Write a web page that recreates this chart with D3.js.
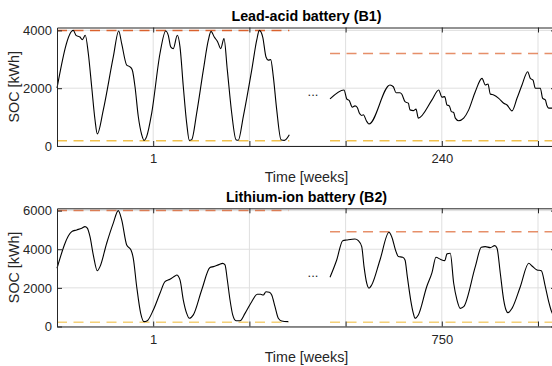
<!DOCTYPE html>
<html>
<head>
<meta charset="utf-8">
<script src="https://cdn.jsdelivr.net/npm/d3@7"></script>
<style>
  html, body { margin: 0; padding: 0; background: #ffffff; }
  svg { display: block; font-family: "Liberation Sans", Arial, Helvetica, sans-serif; }
</style>
</head>
<body>
<svg id="chart" width="552" height="366"></svg>
<script>
// ---------------- data (time in days, SOC in kWh) ----------------
const xTickValues = [2, 4, 6, 8, 10];
const leadAcidTickLabels = ["1", "", "", "240", ""];
const lithiumTickLabels = ["1", "", "", "750", ""];
const leadAcidYTicks = [0, 2000, 4000];
const lithiumYTicks = [0, 2000, 4000, 6000];

const leadAcidWeekA = [
  [0,2000],[0.339,4000],[0.395,3830],[0.478,3770],[0.526,3680],[0.588,3830],[0.651,3200],
  [0.721,2050],[0.79,907],[0.838,420],[0.963,1250],[1.17,3080],[1.283,3980],[1.345,3540],
  [1.449,2800],[1.518,2740],[1.565,2630],[1.622,2050],[1.69,1020],[1.761,390],[1.809,196],
  [1.865,333],[1.969,1140],[2.141,3200],[2.26,3980],[2.314,3830],[2.364,3430],[2.418,3370],
  [2.501,3830],[2.557,3430],[2.626,2050],[2.696,790],[2.751,196],[2.8,220],[2.904,1140],
  [3.042,2625],[3.146,3660],[3.202,3965],[3.27,3770],[3.341,3600],[3.403,3370],[3.472,3715],
  [3.541,2625],[3.632,1140],[3.721,220],[3.769,200],[3.873,1020],[4.048,2625],[4.152,3660],
  [4.206,4000],[4.277,3770],[4.345,3080],[4.393,2970],[4.443,2990],[4.497,2400],[4.568,1250],
  [4.657,220],[4.726,196],[4.83,390]
];
const leadAcidWeekB = [
  [5.676,1630],[5.967,1940],[6.023,1630],[6.077,1570],[6.139,1345],[6.195,1390],[6.243,1330],
  [6.285,1140],[6.335,1055],[6.368,1080],[6.439,850],[6.486,760],[6.923,2110],[6.992,2050],
  [7.048,1845],[7.131,1845],[7.166,1800],[7.235,1535],[7.304,1480],[7.339,1250],[7.408,1225],
  [7.464,1275],[7.512,965],[7.796,1595],[7.935,1940],[8.004,1690],[8.06,1710],[8.108,1420],
  [8.156,1390],[8.198,1190],[8.247,1160],[8.281,965],[8.351,873],[8.455,965],[8.559,1250],
  [8.696,1880],[8.836,2340],[8.904,2110],[8.96,2145],[9.008,1800],[9.079,1765],[9.183,1650],
  [9.287,1480],[9.356,1420],[9.459,1215],[9.563,1650],[9.667,2110],[9.786,2570],[9.84,2340],
  [9.896,2280],[9.944,2000],[10.048,2000],[10.097,1650],[10.152,1595],[10.187,1390],
  [10.222,1310],[10.291,1310],[10.35,1300]
];
const lithiumWeekA = [
  [0,3015],[0.306,4910],[0.41,5000],[0.514,5090],[0.582,5170],[0.63,5090],[0.686,4650],
  [0.755,3700],[0.838,2890],[0.894,3100],[1.033,4310],[1.17,5350],[1.274,6000],[1.345,5520],
  [1.449,4220],[1.538,3960],[1.586,3530],[1.657,2060],[1.74,680],[1.809,250],[1.877,300],
  [2.002,855],[2.141,1720],[2.245,2320],[2.349,2445],[2.453,2615],[2.489,2670],[2.557,2410],
  [2.626,1370],[2.696,680],[2.751,425],[2.834,600],[3.008,1890],[3.181,3050],[3.25,3100],
  [3.353,3190],[3.445,3270],[3.493,3190],[3.541,2410],[3.597,1370],[3.653,600],[3.721,300],
  [3.805,300],[3.909,680],[4.048,1285],[4.164,1670],[4.235,1670],[4.289,1630],[4.345,1800],
  [4.414,1770],[4.464,1630],[4.532,1025],[4.601,425],[4.671,285],[4.809,250]
];
const lithiumWeekB = [
  [5.676,2550],[5.815,3445],[5.94,4445],[6.023,4480],[6.195,4530],[6.264,4445],[6.335,4135],
  [6.383,3100],[6.439,2240],[6.486,1980],[6.542,2150],[6.715,3445],[6.902,4880],[6.958,4650],
  [7.048,3875],[7.096,3620],[7.187,3585],[7.235,3445],[7.283,2580],[7.353,1370],[7.408,680],
  [7.443,425],[7.512,600],[7.686,2060],[7.796,2790],[7.879,3585],[7.969,3480],[8.06,3410],
  [8.108,3760],[8.176,3790],[8.247,2240],[8.316,1370],[8.385,940],[8.455,1025],[8.696,3100],
  [8.821,4100],[8.904,4135],[9.008,4085],[9.1,4190],[9.148,4050],[9.216,2755],[9.287,1370],
  [9.335,855],[9.376,715],[9.459,940],[9.632,2060],[9.807,3275],[9.875,3135],[9.979,2930],
  [10.069,2890],[10.152,2060],[10.222,1285],[10.27,855],[10.35,450]
];
// SOC limits per shown week: [start, end, upper limit, lower limit]
const leadAcidLimits = [[0, 4.83, 4000, 180], [5.676, 10.4, 3200, 180]];
const lithiumLimits = [[0, 4.809, 6000, 220], [5.676, 10.4, 4900, 220]];

// ---------------- drawing ----------------
const svg = d3.select("#chart");
const axisColor = "#262626";
const gridColor = "#dfdfdf";

const x = d3.scaleLinear().domain([0, 10.374]).range([57, 556]);

function panel(opts) {
  const y = d3.scaleLinear().domain([0, opts.yMax]).range([opts.yBottom, opts.yTop]);
  const g = svg.append("g");

  // grid
  g.append("g").selectAll("line.gx").data(xTickValues).join("line")
    .attr("x1", d => x(d)).attr("x2", d => x(d))
    .attr("y1", opts.yTop).attr("y2", opts.yBottom)
    .attr("stroke", gridColor).attr("stroke-width", 1);
  g.append("g").selectAll("line.gy").data(opts.yTicks).join("line")
    .attr("x1", x.range()[0]).attr("x2", x.range()[1])
    .attr("y1", d => y(d)).attr("y2", d => y(d))
    .attr("stroke", gridColor).attr("stroke-width", 1);

  // limits (dashed)
  opts.limits.forEach((L, i) => {
    g.append("line")
      .attr("x1", x(L[0])).attr("x2", x(L[1]))
      .attr("y1", y(L[2])).attr("y2", y(L[2]))
      .attr("stroke", "#D95319").attr("stroke-opacity", i === 0 ? opts.upA[0] : opts.upA[1])
      .attr("stroke-width", 1.5).attr("stroke-dasharray", "10,6.5");
    g.append("line")
      .attr("x1", x(L[0])).attr("x2", x(L[1]))
      .attr("y1", y(L[3])).attr("y2", y(L[3]))
      .attr("stroke", "#EDB120").attr("stroke-opacity", opts.loA)
      .attr("stroke-width", 1.5).attr("stroke-dasharray", "10,6.5");
  });

  // SOC lines
  const line = d3.line().x(d => x(d[0])).y(d => y(d[1])).curve(d3.curveMonotoneX);
  opts.series.forEach(s => {
    g.append("path").datum(s).attr("d", line)
      .attr("fill", "none").attr("stroke", "#000").attr("stroke-width", 1.1)
      .attr("stroke-linejoin", "round");
  });

  // axes (box with inward ticks)
  const styleAxis = sel => {
    sel.select(".domain").attr("stroke", axisColor).attr("stroke-width", 1);
    sel.selectAll(".tick line").attr("stroke", axisColor).attr("stroke-width", 1);
    sel.selectAll(".tick text").attr("fill", axisColor).attr("font-size", 13);
    sel.attr("font-family", null);
  };
  g.append("g").attr("transform", `translate(0,${opts.yBottom})`)
    .call(d3.axisBottom(x).tickValues(xTickValues).tickSize(-5).tickSizeOuter(0).tickPadding(8)
      .tickFormat((d, i) => opts.xLabels[i]))
    .call(styleAxis);
  g.append("g").attr("transform", `translate(0,${opts.yTop})`)
    .call(d3.axisTop(x).tickValues(xTickValues).tickSize(-5).tickSizeOuter(0).tickFormat(""))
    .call(styleAxis);
  g.append("g").attr("transform", `translate(${x.range()[0]},0)`)
    .call(d3.axisLeft(y).tickValues(opts.yTicks).tickSize(-5).tickSizeOuter(0).tickPadding(5)
      .tickFormat(d3.format("d")))
    .call(styleAxis);
  g.append("g").attr("transform", `translate(${x.range()[1]},0)`)
    .call(d3.axisRight(y).tickValues(opts.yTicks).tickSize(-5).tickSizeOuter(0).tickFormat(""))
    .call(styleAxis);

  // break marker
  g.append("text").attr("x", 313).attr("y", y(opts.dotsAt)).attr("dy", "0.2em")
    .attr("text-anchor", "middle").attr("font-size", 13).attr("fill", axisColor).text("...");

  // titles and labels
  g.append("text").attr("x", 306.5).attr("y", opts.titleY).attr("text-anchor", "middle")
    .attr("font-size", 14.3).attr("font-weight", "bold").attr("fill", "#000").text(opts.title);
  g.append("text").attr("x", 306.5).attr("y", opts.xLabelY).attr("text-anchor", "middle")
    .attr("font-size", 14.3).attr("fill", axisColor).text("Time [weeks]");
  g.append("text")
    .attr("transform", `translate(19,${(opts.yTop + opts.yBottom) / 2}) rotate(-90)`)
    .attr("text-anchor", "middle").attr("font-size", 14.3).attr("fill", axisColor)
    .text("SOC [kWh]");
}

panel({
  yMax: 4100, yTop: 27.5, yBottom: 146, yTicks: leadAcidYTicks,
  xLabels: leadAcidTickLabels, series: [leadAcidWeekA, leadAcidWeekB],
  limits: leadAcidLimits, upA: [0.9, 0.65], loA: 0.8, dotsAt: 1830,
  title: "Lead-acid battery (B1)", titleY: 21, xLabelY: 182
});
panel({
  yMax: 6120, yTop: 208.3, yBottom: 326.5, yTicks: lithiumYTicks,
  xLabels: lithiumTickLabels, series: [lithiumWeekA, lithiumWeekB],
  limits: lithiumLimits, upA: [0.7, 0.65], loA: 0.6, dotsAt: 2720,
  title: "Lithium-ion battery (B2)", titleY: 202, xLabelY: 362
});
</script>
</body>
</html>
